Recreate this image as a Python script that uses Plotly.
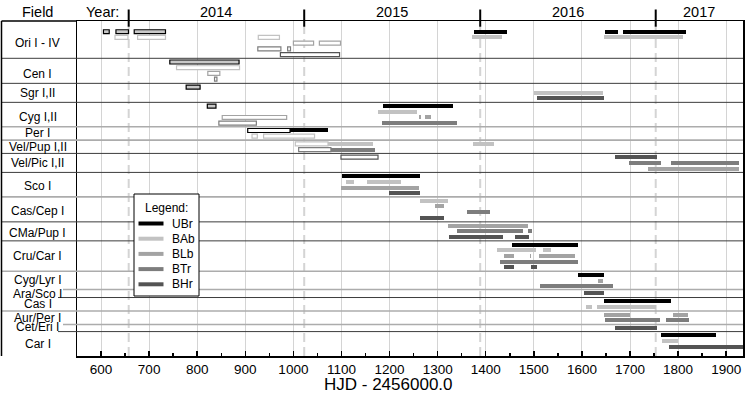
import plotly.graph_objects as go

# ---------------- data ----------------
SATELLITES = ["UBr", "BAb", "BLb", "BTr", "BHr"]

FIELDS = ["Ori I - IV", "Cen I", "Sgr I,II", "Cyg I,II", "Per I", "Vel/Pup I,II",
          "Vel/Pic I,II", "Sco I", "Cas/Cep I", "CMa/Pup I", "Cru/Car I",
          "Cyg/Lyr I", "Ara/Sco I", "Cas I", "Aur/Per I", "Cet/Eri I", "Car I"]

# satellites observing each field, in the order of their lines inside the field row
FIELD_SATS = [
    ["UBr", "BAb", "BLb", "BTr", "BHr"],
    ["UBr", "BAb", "BLb", "BTr"],
    ["UBr", "BAb", "BHr"],
    ["UBr", "BAb", "BLb", "BTr"],
    ["UBr", "BAb"],
    ["BAb", "BTr"],
    ["BHr", "BTr", "BLb"],
    ["UBr", "BAb", "BLb", "BHr"],
    ["BAb", "BLb", "BTr", "BHr"],
    ["BLb", "BTr", "BHr"],
    ["UBr", "BAb", "BLb", "BTr", "BHr"],
    ["UBr", "BLb", "BTr"],
    ["BHr"],
    ["UBr", "BAb"],
    ["BLb", "BTr"],
    ["BHr"],
    ["UBr", "BAb", "BHr"],
]

# runs: (satellite, start, end, kind)  HJD - 2456000.0
# kind: "F" = regular data, "O" = early/partial data, "G" = early data (commissioning)
ORI = [("UBr", 605, 617, "G"), ("UBr", 631, 657, "G"), ("UBr", 669, 734, "G"),
       ("UBr", 1375, 1444, "F"), ("UBr", 1648, 1675, "F"), ("UBr", 1686, 1817, "F"),
       ("BAb", 629, 656, "O"), ("BAb", 676, 734, "O"), ("BAb", 927, 971, "O"),
       ("BAb", 1371, 1434, "F"), ("BAb", 1646, 1811, "F"),
       ("BLb", 1000, 1042, "O"), ("BLb", 1054, 1098, "O"),
       ("BTr", 926, 974, "O"), ("BTr", 988, 994, "O"),
       ("BHr", 973, 1096, "O")]
CEN = [("UBr", 743, 887, "G"), ("BAb", 757, 888, "O"),
       ("BLb", 822, 847, "O"), ("BTr", 836, 841, "O")]
SGR = [("UBr", 777, 806, "G"), ("BAb", 1501, 1644, "F"), ("BHr", 1506, 1645, "F")]
CYG = [("UBr", 821, 839, "G"), ("UBr", 1186, 1331, "F"),
       ("BAb", 1175, 1258, "F"),
       ("BLb", 852, 986, "O"), ("BLb", 1262, 1265, "F"), ("BLb", 1274, 1287, "F"),
       ("BTr", 845, 923, "O"), ("BTr", 1185, 1340, "F")]
PER = [("UBr", 905, 993, "O"), ("UBr", 993, 1072, "F"),
       ("BAb", 914, 925, "O"), ("BAb", 938, 1044, "O")]
VELPUP = [("BAb", 1004, 1072, "O"), ("BAb", 1072, 1166, "F"), ("BAb", 1373, 1418, "F"),
          ("BTr", 1011, 1078, "O"), ("BTr", 1078, 1170, "F")]
VELPIC = [("BHr", 1099, 1176, "O"), ("BHr", 1668, 1757, "F"),
          ("BTr", 1697, 1764, "F"), ("BTr", 1786, 1926, "F"),
          ("BLb", 1738, 1926, "F")]
SCO = [("UBr", 1102, 1264, "F"), ("BAb", 1110, 1127, "F"), ("BAb", 1154, 1224, "F"),
       ("BLb", 1100, 1262, "F"), ("BHr", 1199, 1264, "F")]
CASCEP = [("BAb", 1264, 1321, "F"), ("BLb", 1295, 1313, "F"),
          ("BTr", 1361, 1408, "F"), ("BHr", 1264, 1314, "F")]
CMAPUP = [("BLb", 1322, 1488, "F"), ("BTr", 1341, 1477, "F"), ("BTr", 1488, 1497, "F"),
          ("BHr", 1323, 1436, "F"), ("BHr", 1460, 1490, "F")]
CRUCAR = [("UBr", 1454, 1592, "F"), ("BAb", 1423, 1504, "F"), ("BAb", 1520, 1536, "F"),
          ("BLb", 1438, 1459, "F"), ("BLb", 1492, 1494, "F"), ("BLb", 1511, 1585, "F"),
          ("BTr", 1429, 1592, "F"), ("BHr", 1438, 1459, "F"), ("BHr", 1495, 1506, "F")]
CYGLYR = [("UBr", 1591, 1645, "F"), ("BLb", 1634, 1644, "F"), ("BTr", 1513, 1664, "F")]
ARASCO = [("BHr", 1604, 1646, "F")]
CAS = [("UBr", 1645, 1786, "F"), ("BAb", 1608, 1621, "F"), ("BAb", 1632, 1754, "F")]
AURPER = [("BLb", 1646, 1701, "F"), ("BLb", 1790, 1820, "F"),
          ("BTr", 1647, 1763, "F"), ("BTr", 1775, 1823, "F")]
CETERI = [("BHr", 1668, 1757, "F")]
CAR = [("UBr", 1765, 1879, "F"), ("BAb", 1766, 1800, "F"), ("BHr", 1782, 1936, "F")]

FIELD_RUNS = [ORI, CEN, SGR, CYG, PER, VELPUP, VELPIC, SCO, CASCEP, CMAPUP,
              CRUCAR, CYGLYR, ARASCO, CAS, AURPER, CETERI, CAR]

YEAR_STARTS = [657.5, 1022.5, 1388.5, 1753.5]
YEAR_LABELS = ["2014", "2015", "2016", "2017"]

# ---------------- layout / style ----------------
FONT = "Liberation Sans, Arial, Helvetica, sans-serif"
W, H = 747, 394
ML, MR, MT, MB = 77, 4, 21, 38
PW, PH = W - ML - MR, H - MT - MB
XMIN, XMAX = 550, 1935

ROW_HEIGHTS = [6.54, 4.39, 3.33, 4.28, 2.34, 2.33, 3.33, 4.28, 4.39, 3.33, 5.32,
               3.21, 1.40, 2.35, 2.39, 1.23, 4.28]
FIRST_LANE = [1.88] + [0.65] * 16
GRAY_SEP = {3, 4, 7, 10, 11, 13, 14}
SEP_START_PX = {11: 63, 12: 58, 14: 63, 15: 58}
LABEL_NUDGE_PX = {0: 3, 1: 3, 3: 2, 7: 1, 8: 1.5, 9: 1.5, 15: -1}

SAT_COLORS = {"UBr": "#000000", "BAb": "#c2c2c2", "BLb": "#a3a3a3",
              "BTr": "#7d7d7d", "BHr": "#545454"}
BAR_W = 0.70

YTOT = sum(ROW_HEIGHTS)
row_tops = []
acc = 0.0
for h in ROW_HEIGHTS:
    row_tops.append(acc)
    acc += h


def px_x(p):
    return (p - ML) / PW


def px_y(p):
    return 1 - (p - MT) / PH


def u_y(u):
    return 1 - u / YTOT


fig = go.Figure()

# bars grouped by satellite and kind
groups = {}
for fi, runs in enumerate(FIELD_RUNS):
    for sat, s, e, kind in runs:
        lane = FIELD_SATS[fi].index(sat)
        yc = row_tops[fi] + FIRST_LANE[fi] + lane
        g = groups.setdefault((sat, kind), {"y": [], "base": [], "len": []})
        g["y"].append(yc)
        g["base"].append(s)
        g["len"].append(min(e, XMAX) - s)

for (sat, kind), g in groups.items():
    col = SAT_COLORS[sat]
    if kind == "F":
        marker = dict(color=col, line=dict(width=0))
    elif kind == "O":
        marker = dict(color="#ffffff", line=dict(color=col, width=1.2))
    else:
        marker = dict(color="#c8c8c8", line=dict(color=col, width=1.2))
    fig.add_trace(go.Bar(orientation="h", y=g["y"], x=g["len"], base=g["base"],
                         width=BAR_W, marker=marker, name=sat, showlegend=False))

shapes = []
# dashed year lines
for yr in YEAR_STARTS:
    shapes.append(dict(type="line", xref="x", yref="paper", x0=yr, x1=yr, y0=0, y1=1,
                       line=dict(color="#d4d4d4", width=2, dash="9px,5px"), layer="below"))
# row separators
for i in range(len(FIELDS) - 1):
    u = row_tops[i + 1]
    gray = i in GRAY_SEP
    shapes.append(dict(type="line", xref="paper", yref="paper",
                       x0=px_x(SEP_START_PX.get(i, 1.5)), x1=1, y0=u_y(u), y1=u_y(u),
                       line=dict(color="#acacac" if gray else "#3c3c3c",
                                 width=1.6 if gray else 1), layer="above"))
# label column frame
shapes.append(dict(type="line", xref="paper", yref="paper", x0=px_x(1.5), x1=0,
                   y0=1, y1=1, line=dict(color="black", width=1.5)))
shapes.append(dict(type="line", xref="paper", yref="paper", x0=px_x(1.5), x1=px_x(1.5),
                   y0=0, y1=1, line=dict(color="black", width=1.5)))
# year marks
for yr in YEAR_STARTS:
    shapes.append(dict(type="line", xref="x", yref="paper", x0=yr, x1=yr,
                       y0=px_y(26.7), y1=px_y(9.5), line=dict(color="black", width=2)))

# legend box
LEG_X0, LEG_X1, LEG_Y0, LEG_Y1 = 134, 199, 194, 296
shapes.append(dict(type="rect", xref="paper", yref="paper", x0=px_x(LEG_X0), x1=px_x(LEG_X1),
                   y0=px_y(LEG_Y1), y1=px_y(LEG_Y0), fillcolor="white",
                   line=dict(color="black", width=1), layer="above"))
annotations = []
annotations.append(dict(text="Legend:", xref="paper", yref="paper", x=px_x(166), y=px_y(208.5),
                        showarrow=False, font=dict(size=12), xanchor="center", yanchor="middle"))
for k, sat in enumerate(SATELLITES):
    yy = px_y(223.5 + k * 15.2)
    shapes.append(dict(type="line", xref="paper", yref="paper", x0=px_x(138.5), x1=px_x(163.5),
                       y0=yy, y1=yy, line=dict(color=SAT_COLORS[sat], width=4)))
    annotations.append(dict(text=sat, xref="paper", yref="paper", x=px_x(169.5), y=yy,
                            showarrow=False, font=dict(size=12), xanchor="left", yanchor="middle"))

# field labels
for i, name in enumerate(FIELDS):
    yc_px = MT + (row_tops[i] + ROW_HEIGHTS[i] / 2) * PH / YTOT + LABEL_NUDGE_PX.get(i, 0)
    annotations.append(dict(text=name, xref="paper", yref="paper", x=px_x(37.5), y=px_y(yc_px),
                            showarrow=False, font=dict(size=12), xanchor="center", yanchor="middle"))

# header
annotations.append(dict(text="Field", xref="paper", yref="paper", x=px_x(37.5), y=px_y(12),
                        showarrow=False, font=dict(size=14.5), xanchor="center", yanchor="middle"))
annotations.append(dict(text="Year:", xref="paper", yref="paper", x=px_x(102), y=px_y(12),
                        showarrow=False, font=dict(size=14.5), xanchor="center", yanchor="middle"))
bounds = YEAR_STARTS + [XMAX]
for k, lab in enumerate(YEAR_LABELS):
    xc = (bounds[k] + bounds[k + 1]) / 2
    annotations.append(dict(text=lab, xref="x", yref="paper", x=xc, y=px_y(12),
                            showarrow=False, font=dict(size=14.5), xanchor="center", yanchor="middle"))

# x axis title
annotations.append(dict(text="HJD - 2456000.0", xref="paper", yref="paper", x=px_x(388), y=px_y(385),
                        showarrow=False, font=dict(size=17), xanchor="center", yanchor="middle"))

fig.update_layout(width=W, height=H, margin=dict(l=ML, r=MR, t=MT, b=MB),
                  paper_bgcolor="white", plot_bgcolor="rgba(0,0,0,0)",
                  barmode="overlay", showlegend=False, bargap=0, hovermode=False,
                  font=dict(family=FONT, color="black"),
                  shapes=shapes, annotations=annotations)
fig.update_xaxes(range=[XMIN, XMAX], tick0=0, dtick=100, ticks="inside", ticklen=5, tickwidth=1.5,
                 tickcolor="black", showgrid=True, gridcolor="#d4d4d4", gridwidth=1,
                 showline=True, linecolor="black", linewidth=1.5, mirror=True,
                 tickfont=dict(size=13.5), zeroline=False,
                 automargin=False,
                 minor=dict(dtick=50, tick0=0, ticks="inside", ticklen=3, tickwidth=1.5,
                            tickcolor="black", showgrid=False))
fig.update_yaxes(range=[YTOT, 0], showticklabels=False, showgrid=False, zeroline=False,
                 showline=True, linecolor="black", linewidth=1.5, mirror=True, ticks="",
                 automargin=False)

fig.write_html("out.html", config={"displayModeBar": False, "staticPlot": True},
               post_script="document.body.style.margin='0px';"
                           "document.body.style.overflow='hidden';")
